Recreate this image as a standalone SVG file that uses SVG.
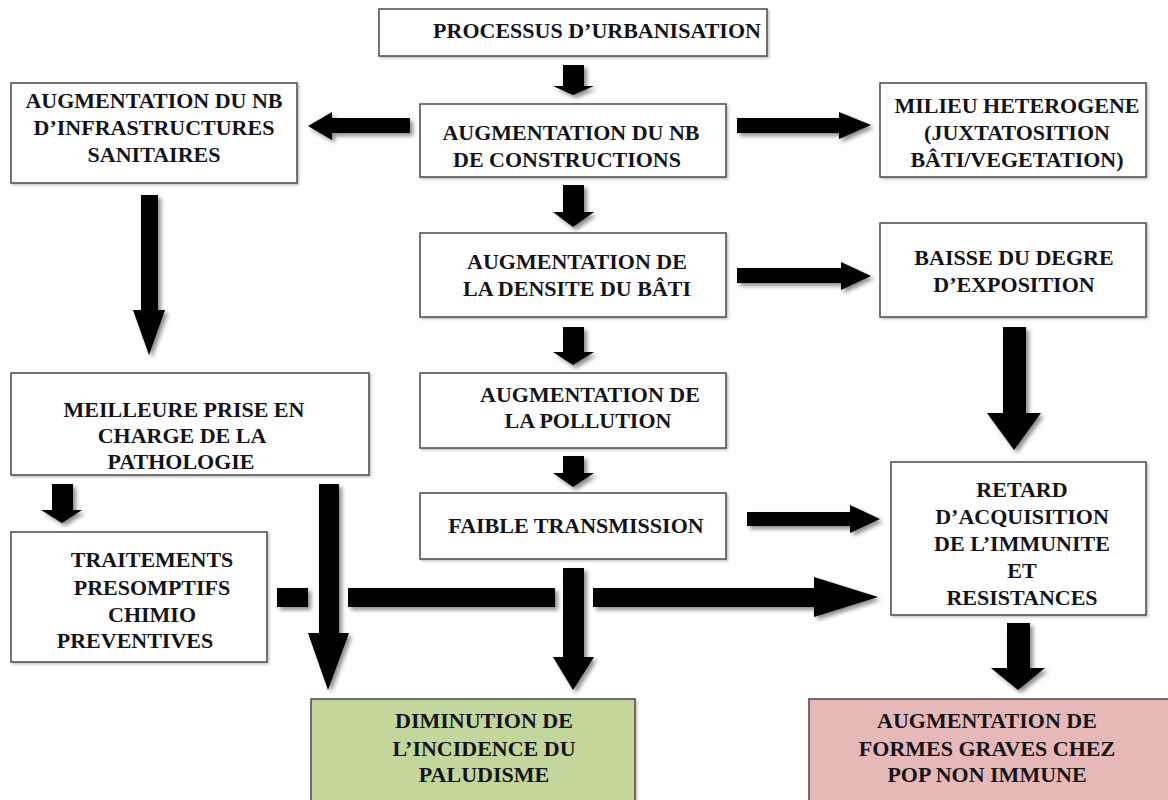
<svg xmlns="http://www.w3.org/2000/svg" width="1168" height="800" viewBox="0 0 1168 800">
<defs>
<filter id="sh" x="-20%" y="-20%" width="150%" height="150%">
<feDropShadow dx="3" dy="3" stdDeviation="2" flood-color="#000" flood-opacity="0.45"/>
</filter>
<filter id="bsh" x="-5%" y="-5%" width="110%" height="115%">
<feDropShadow dx="1.5" dy="1.5" stdDeviation="1.2" flood-color="#000" flood-opacity="0.25"/>
</filter>
</defs>
<style>
.box{fill:#ffffff;stroke:#4a4a4a;stroke-width:1.5;filter:url(#bsh)}
.green{fill:#c3d69b}
.pink{fill:#e6b9b8}
.t{font-weight:bold;font-size:22px;fill:#141418;text-anchor:middle}
.arr{fill:#000;filter:url(#sh)}
</style>
<rect width="1168" height="800" fill="#ffffff"/>

<g id="connectors">
<polygon class="arr" points="563,65 584,65 584,86 594,86 573,95 553,86 563,86"/>
<polygon class="arr" points="410,118 410,133 332,133 332,140 308,126 332,112 332,118"/>
<polygon class="arr" points="737,118 839,118 839,112 871,125 839,139 839,133 737,133"/>
<polygon class="arr" points="563,185 584,185 584,212 594,212 573,227 553,212 563,212"/>
<polygon class="arr" points="141,195 158,195 158,310 165,310 149,355 133,310 141,310"/>
<polygon class="arr" points="737,268 841,268 841,262 871,276 841,290 841,283 737,283"/>
<polygon class="arr" points="563,327 584,327 584,352 594,352 573,365 553,352 563,352"/>
<polygon class="arr" points="1003,327 1026,327 1026,413 1041,413 1014,450 987,413 1003,413"/>
<polygon class="arr" points="563,456 584,456 584,473 594,473 573,487 553,473 563,473"/>
<polygon class="arr" points="52,484 73,484 73,510 82,510 62,523 41,510 52,510"/>
<polygon class="arr" points="319,484 339,484 339,633 349,633 328,690 308,633 319,633"/>
<polygon class="arr" points="747,512 850,512 850,505 880,519 850,533 850,526 747,526"/>
<polygon class="arr" points="563,568 584,568 584,657 594,657 573,690 553,657 563,657"/>
<rect class="arr" x="277" y="588" width="31" height="19"/>
<rect class="arr" x="348" y="588" width="207" height="19"/>
<polygon class="arr" points="593,588 814,588 814,577 878,597 814,617 814,607 593,607"/>
<polygon class="arr" points="1007,623 1030,623 1030,668 1045,668 1018,690 991,668 1007,668"/>
</g>

<g font-family="'Liberation Serif', 'Times New Roman', Times, 'DejaVu Serif', serif">
<g id="n-urbanisation">
<rect class="box" x="379" y="9" width="388" height="47"/>
<text class="t" x="597" y="38">PROCESSUS D’URBANISATION</text>
</g>

<g id="n-infrastructures">
<rect class="box" x="11" y="83" width="286" height="100"/>
<text class="t" x="154" y="108">AUGMENTATION DU NB</text>
<text class="t" x="154" y="135">D’INFRASTRUCTURES</text>
<text class="t" x="154" y="162">SANITAIRES</text>
</g>

<g id="n-constructions">
<rect class="box" x="420" y="104" width="306" height="73"/>
<text class="t" x="571" y="140">AUGMENTATION DU NB</text>
<text class="t" x="567" y="167">DE CONSTRUCTIONS</text>
</g>

<g id="n-milieu">
<rect class="box" x="880" y="83" width="266" height="94"/>
<text class="t" x="1017" y="113">MILIEU HETEROGENE</text>
<text class="t" x="1017" y="140">(JUXTATOSITION</text>
<text class="t" x="1017" y="167">BÂTI/VEGETATION)</text>
</g>

<g id="n-densite">
<rect class="box" x="420" y="233" width="306" height="84"/>
<text class="t" x="577" y="269">AUGMENTATION DE</text>
<text class="t" x="577" y="296">LA DENSITE DU BÂTI</text>
</g>

<g id="n-baisse">
<rect class="box" x="880" y="223" width="266" height="94"/>
<text class="t" x="1014" y="265">BAISSE DU DEGRE</text>
<text class="t" x="1014" y="292">D’EXPOSITION</text>
</g>

<g id="n-pollution">
<rect class="box" x="420" y="373" width="306" height="75"/>
<text class="t" x="590" y="402">AUGMENTATION DE</text>
<text class="t" x="588" y="428">LA POLLUTION</text>
</g>

<g id="n-meilleure">
<rect class="box" x="11" y="373" width="358" height="102"/>
<text class="t" x="184" y="417">MEILLEURE PRISE EN</text>
<text class="t" x="182" y="443">CHARGE DE LA</text>
<text class="t" x="181" y="469">PATHOLOGIE</text>
</g>

<g id="n-faible">
<rect class="box" x="420" y="493" width="306" height="66"/>
<text class="t" x="576" y="533">FAIBLE TRANSMISSION</text>
</g>

<g id="n-retard">
<rect class="box" x="891" y="462" width="255" height="153"/>
<text class="t" x="1022" y="497">RETARD</text>
<text class="t" x="1022" y="524">D’ACQUISITION</text>
<text class="t" x="1022" y="551">DE L’IMMUNITE</text>
<text class="t" x="1022" y="578">ET</text>
<text class="t" x="1022" y="605">RESISTANCES</text>
</g>

<g id="n-traitements">
<rect class="box" x="11" y="532" width="256" height="130"/>
<text class="t" x="152" y="567">TRAITEMENTS</text>
<text class="t" x="152" y="595">PRESOMPTIFS</text>
<text class="t" x="152" y="622">CHIMIO</text>
<text class="t" x="135" y="648">PREVENTIVES</text>
</g>

<g id="n-diminution">
<rect class="box green" x="311" y="699" width="324" height="115"/>
<text class="t" x="484" y="728">DIMINUTION DE</text>
<text class="t" x="484" y="756">L’INCIDENCE DU</text>
<text class="t" x="484" y="782">PALUDISME</text>
</g>

<g id="n-formes-graves">
<rect class="box pink" x="809" y="699" width="370" height="115"/>
<text class="t" x="987" y="728">AUGMENTATION DE</text>
<text class="t" x="987" y="756">FORMES GRAVES CHEZ</text>
<text class="t" x="987" y="782">POP NON IMMUNE</text>
</g>
</g>
</svg>
